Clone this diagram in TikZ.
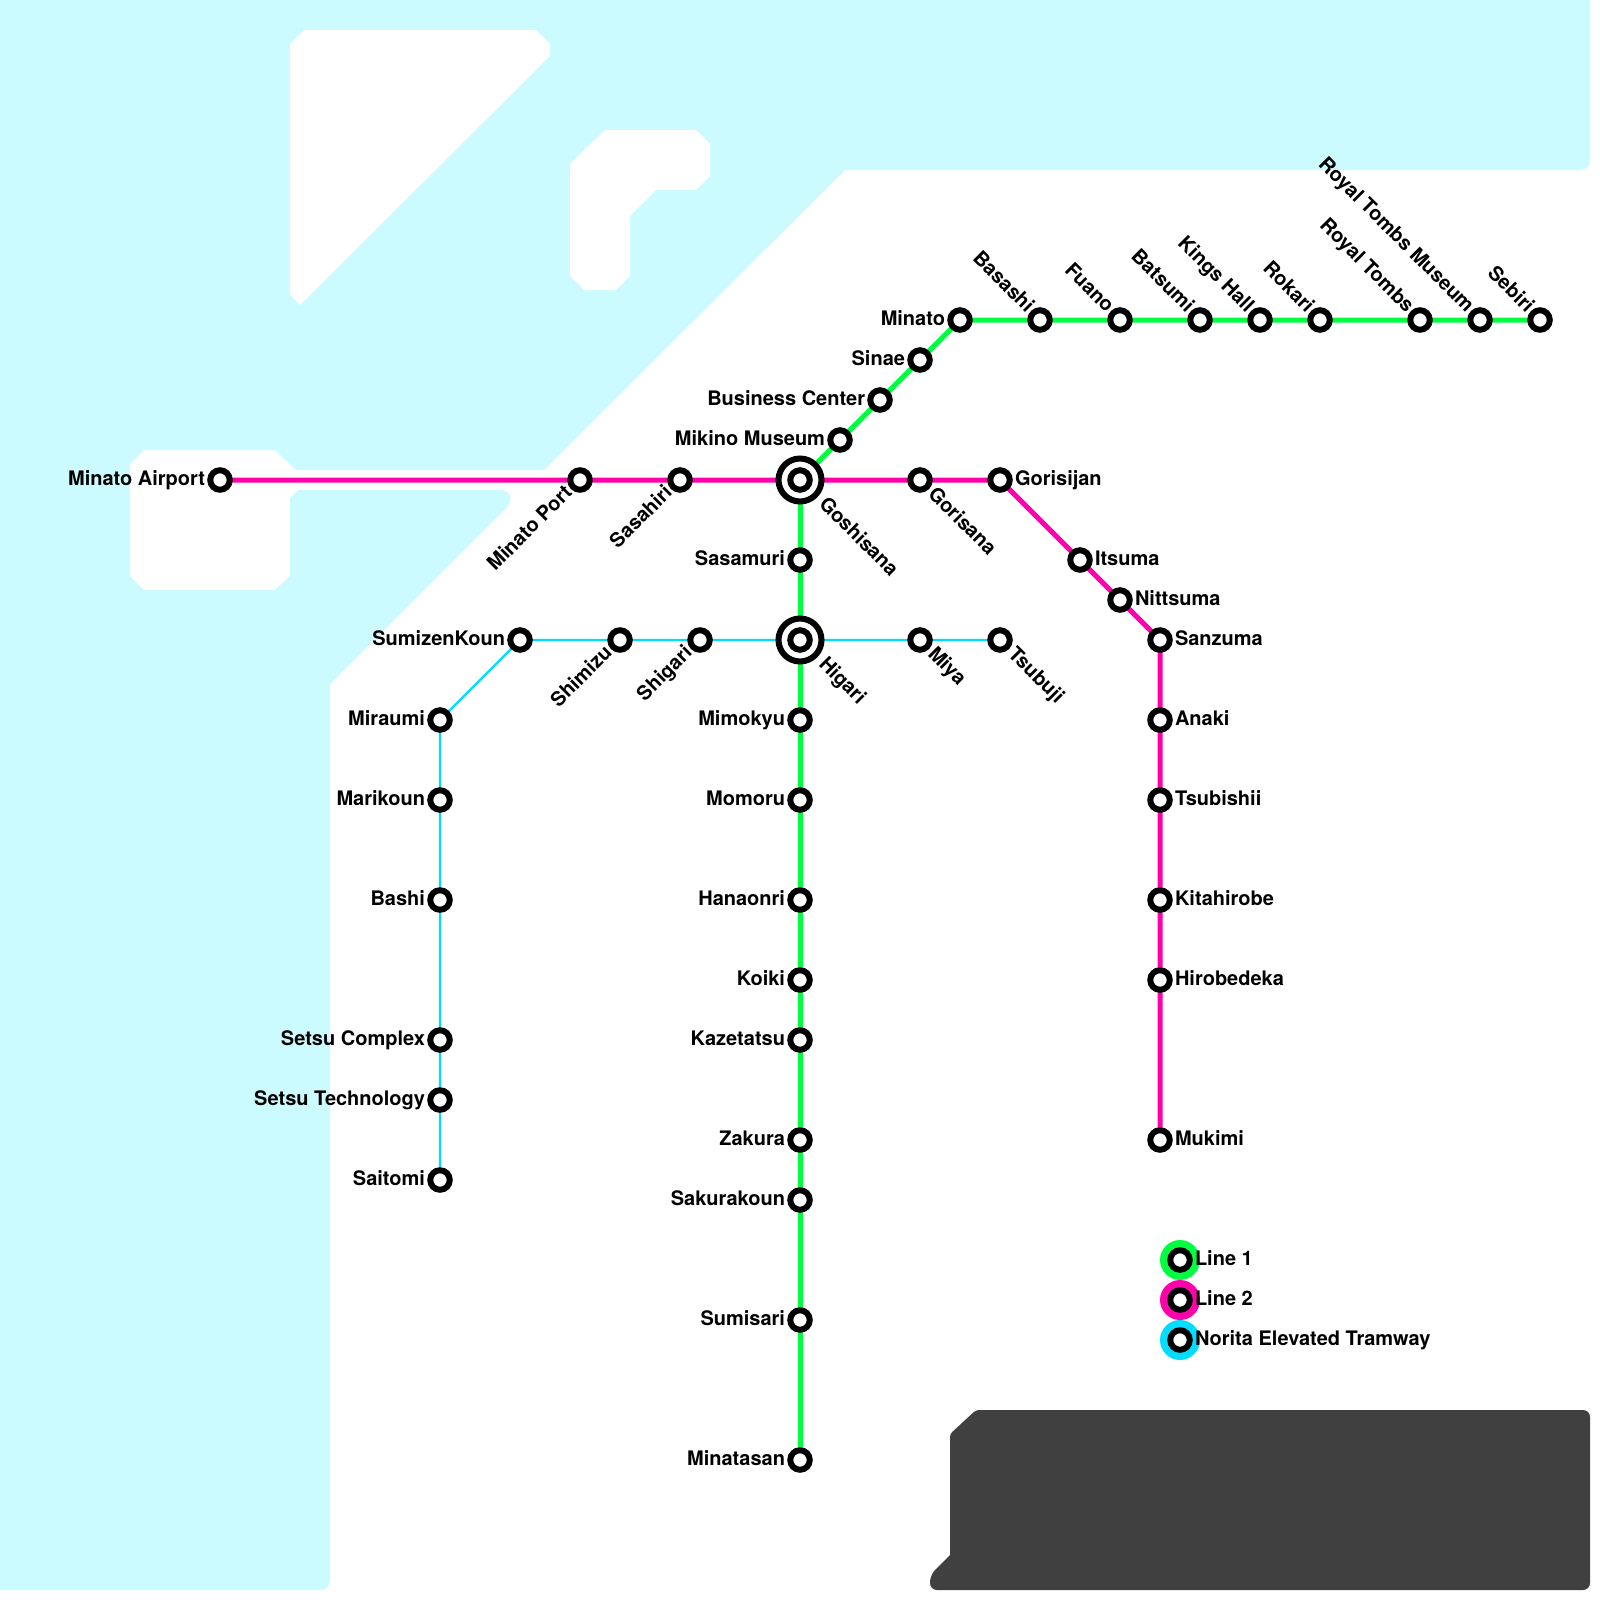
\documentclass[tikz,border=0pt]{standalone}
\usepackage{fontspec}
\setmainfont{TeX Gyre Heros}
\usetikzlibrary{backgrounds}
\definecolor{water}{RGB}{204,251,255}
\definecolor{land}{RGB}{64,64,64}
\definecolor{lineone}{RGB}{0,255,64}
\definecolor{linetwo}{RGB}{255,0,170}
\definecolor{linethree}{RGB}{0,221,255}
\tikzset{
  x=1pt,y=-1pt,
  stn/.style={circle,draw=black,line width=6pt,fill=white,inner sep=0pt,outer sep=0pt,minimum size=19.5pt},
  hub/.style={circle,draw=black,line width=6pt,fill=white,inner sep=0pt,outer sep=0pt,minimum size=43pt},
  txt/.style={inner sep=0pt,outer sep=0pt,font=\bfseries\fontsize{20}{20}\selectfont,text=black},
  lL/.style={txt,xshift=-15pt,yshift=-5pt,anchor=base east},
  lR/.style={txt,xshift=15pt,yshift=-5pt,anchor=base west},
  lDR/.style={txt,xshift=7pt,yshift=-15pt,rotate=-45,anchor=base west},
  lDRhub/.style={txt,xshift=18pt,yshift=-25pt,rotate=-45,anchor=base west},
  lUL/.style={txt,xshift=-14pt,yshift=6.5pt,rotate=-45,anchor=base east},
  lDL/.style={txt,xshift=-7pt,yshift=-14pt,rotate=45,anchor=base east},
  one/.style={draw=lineone,line width=5pt},
  two/.style={draw=linetwo,line width=5pt},
  three/.style={draw=linethree,line width=2.4pt},
  legdisc/.style={circle,inner sep=0pt,outer sep=0pt,minimum size=40pt},
}
\newcommand{\St}[5]{\node[stn] (#1) at (#2,#3) {};\node[#4] (#1-l) at (#2,#3) {#5};}
\newcommand{\Hb}[5]{\node[hub] (#1) at (#2,#3) {};\node[stn] (#1-c) at (#2,#3) {};\node[#4] (#1-l) at (#2,#3) {#5};}
\begin{document}
\begin{tikzpicture}
\useasboundingbox (0,0) rectangle (1600,1600);
\begin{pgfonlayer}{background}
\fill[white] (0,0) rectangle (1600,1600);
\fill[water] (0,0) -- (1590,0) -- (1590,161) .. controls (1590,166) and (1586,170) .. (1581,170) -- (845,170) -- (544,470) -- (296,470) -- (275,450) -- (144,450) -- (130,464) -- (130,576) -- (144,590) -- (275,590) -- (290,576) -- (290,498) -- (298,490) -- (500,490) .. controls (511,490) and (514,500) .. (506,508) -- (330,684) -- (330,1581) .. controls (330,1586) and (326,1590) .. (321,1590) -- (0,1590) -- cycle;
\fill[white] (304,30) -- (536,30) -- (550,44) -- (550,56) -- (300,305) -- (290,295) -- (290,44) -- cycle;
\fill[white] (605,130) -- (696,130) -- (710,144) -- (710,176) -- (696,190) -- (656,190) -- (630,216) -- (630,276) -- (616,290) -- (584,290) -- (570,276) -- (570,164) -- cycle;
\fill[land,rounded corners=7pt] (976,1410) -- (1590,1410) -- (1590,1590) -- (930,1590) -- (930,1575) [sharp corners] -- (950,1555) [rounded corners=3pt] -- (950,1434) -- cycle;
\end{pgfonlayer}

% Line 1
\Hb{gosh}{800}{480}{lDRhub}{Goshisana}
\Hb{higa}{800}{640}{lDRhub}{Higari}
\St{mika}{840}{440}{lL}{Mikino Museum}
\St{busi}{880}{400}{lL}{Business Center}
\St{sina}{920}{360}{lL}{Sinae}
\St{mina}{960}{320}{lL}{Minato}
\St{basa}{1040}{320}{lUL}{Basashi}
\St{fuan}{1120}{320}{lUL}{Fuano}
\St{bats}{1200}{320}{lUL}{Batsumi}
\St{king}{1260}{320}{lUL}{Kings Hall}
\St{roka}{1320}{320}{lUL}{Rokari}
\St{roya}{1420}{320}{lUL}{Royal Tombs}
\St{rtmu}{1480}{320}{lUL}{Royal Tombs Museum}
\St{sebi}{1540}{320}{lUL}{Sebiri}
\St{sasa}{800}{560}{lL}{Sasamuri}
\St{mimo}{800}{720}{lL}{Mimokyu}
\St{momo}{800}{800}{lL}{Momoru}
\St{hana}{800}{900}{lL}{Hanaonri}
\St{koik}{800}{980}{lL}{Koiki}
\St{kaze}{800}{1040}{lL}{Kazetatsu}
\St{zaku}{800}{1140}{lL}{Zakura}
\St{saku}{800}{1200}{lL}{Sakurakoun}
\St{sumi}{800}{1320}{lL}{Sumisari}
\St{mnts}{800}{1460}{lL}{Minatasan}
% Line 2
\St{airp}{220}{480}{lL}{Minato Airport}
\St{port}{580}{480}{lDL}{Minato Port}
\St{sahi}{680}{480}{lDL}{Sasahiri}
\St{gsan}{920}{480}{lDR}{Gorisana}
\St{gjan}{1000}{480}{lR}{Gorisijan}
\St{itsu}{1080}{560}{lR}{Itsuma}
\St{nitt}{1120}{600}{lR}{Nittsuma}
\St{sanz}{1160}{640}{lR}{Sanzuma}
\St{anak}{1160}{720}{lR}{Anaki}
\St{tsub}{1160}{800}{lR}{Tsubishii}
\St{kita}{1160}{900}{lR}{Kitahirobe}
\St{hiro}{1160}{980}{lR}{Hirobedeka}
\St{muki}{1160}{1140}{lR}{Mukimi}
% Tramway
\St{saito}{440}{1180}{lL}{Saitomi}
\St{stec}{440}{1100}{lL}{Setsu Technology}
\St{scom}{440}{1040}{lL}{Setsu Complex}
\St{bash}{440}{900}{lL}{Bashi}
\St{mari}{440}{800}{lL}{Marikoun}
\St{mira}{440}{720}{lL}{Miraumi}
\St{sumz}{520}{640}{lL}{SumizenKoun}
\St{shim}{620}{640}{lDL}{Shimizu}
\St{shig}{700}{640}{lDL}{Shigari}
\St{miya}{920}{640}{lDR}{Miya}
\St{tsbj}{1000}{640}{lDR}{Tsubuji}

\begin{pgfonlayer}{background}
\draw[one] (gosh) -- (mika) -- (busi) -- (sina) -- (mina) -- (basa) -- (fuan) -- (bats) -- (king) -- (roka) -- (roya) -- (rtmu) -- (sebi);
\draw[one] (gosh) -- (sasa) -- (higa) -- (mimo) -- (momo) -- (hana) -- (koik) -- (kaze) -- (zaku) -- (saku) -- (sumi) -- (mnts);
\draw[two] (airp) -- (port) -- (sahi) -- (gosh) -- (gsan) -- (gjan) -- (itsu) -- (nitt) -- (sanz) -- (anak) -- (tsub) -- (kita) -- (hiro) -- (muki);
\draw[three] (saito) -- (stec) -- (scom) -- (bash) -- (mari) -- (mira) -- (sumz) -- (shim) -- (shig) -- (higa) -- (miya) -- (tsbj);
\end{pgfonlayer}

% Legend
\node[legdisc,fill=lineone] (dOne) at (1180,1260) {};
\node[legdisc,fill=linetwo] (dTwo) at (1180,1300) {};
\node[legdisc,fill=linethree] (dThree) at (1180,1340) {};
\St{legA}{1180}{1260}{lR}{Line 1}
\St{legB}{1180}{1300}{lR}{Line 2}
\St{legC}{1180}{1340}{lR}{Norita Elevated Tramway}
\end{tikzpicture}
\end{document}
